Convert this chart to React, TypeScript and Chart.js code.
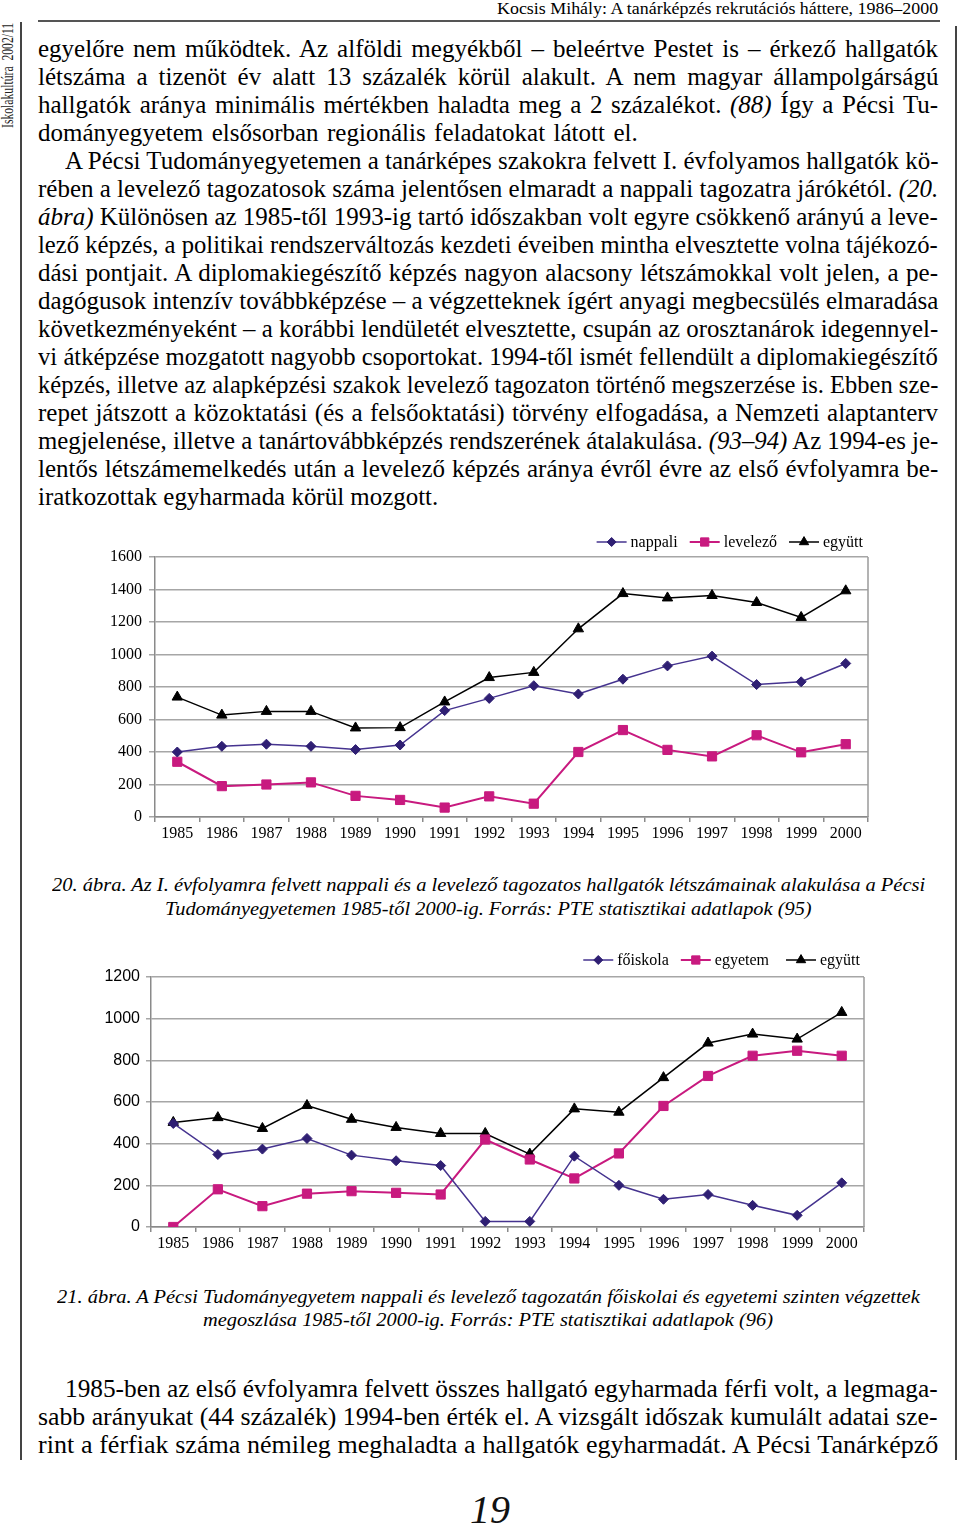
import React, { useEffect, useLayoutEffect, useRef } from "react";
import { Chart, registerables } from "chart.js";
import { drawPoint } from "chart.js/helpers";

Chart.register(...registerables);

const SERIF = '"Liberation Serif", serif';
const SANS = '"Liberation Sans", sans-serif';

// ---------- data ----------
const years = ["1985", "1986", "1987", "1988", "1989", "1990", "1991", "1992", "1993", "1994", "1995", "1996", "1997", "1998", "1999", "2000"];

// Figure 20
const nappali = [400, 435, 448, 435, 415, 443, 655, 730, 808, 757, 848, 930, 990, 815, 832, 945];
const levelezo = [340, 190, 200, 213, 130, 105, 58, 127, 82, 400, 535, 413, 373, 503, 398, 448];
const egyutt20 = [738, 627, 650, 650, 548, 550, 708, 858, 890, 1158, 1375, 1348, 1363, 1320, 1228, 1392];
const labels20 = ["nappali", "levelező", "együtt"];

// Figure 21
const foiskola = [497, 348, 374, 425, 345, 318, 295, 27, 27, 340, 200, 133, 156, 104, 56, 212];
const egyetem = [0, 181, 100, 160, 172, 164, 156, 420, 324, 233, 353, 581, 725, 822, 846, 822];
const egyutt21 = [502, 525, 473, 583, 517, 478, 449, 449, 350, 567, 551, 717, 883, 926, 902, 1030];
const labels21 = ["főiskola", "egyetem", "együtt"];

const yMax20 = 1600;
const yMax21 = 1200;
const yStep = 200;

const PURPLE_LINE = "#45338f";
const PURPLE_PT = "#2f1f73";
const MAGENTA = "#c81a7f";
const BLACK = "#000000";

// ---------- plugins ----------
const framePlugin = {
  id: "frameRight",
  beforeDatasetsDraw(chart: any) {
    const { ctx, chartArea } = chart;
    ctx.save();
    ctx.strokeStyle = "#9a9a9a";
    ctx.lineWidth = 1.5;
    ctx.beginPath();
    ctx.moveTo(chartArea.right, chartArea.top);
    ctx.lineTo(chartArea.right, chartArea.bottom);
    ctx.stroke();
    ctx.restore();
  },
};

const lineLegendPlugin = {
  id: "lineLegend",
  afterDraw(chart: any, _args: any, opts: any) {
    const { ctx, chartArea } = chart;
    ctx.save();
    ctx.font = opts.font;
    ctx.textBaseline = "middle";
    ctx.textAlign = "left";
    const y = chartArea.top - opts.offsetY;
    let x = chartArea.right - opts.rightInset;
    const ds = chart.data.datasets.slice().reverse();
    ds.forEach((d: any, i: number) => {
      const tw = ctx.measureText(d.label).width;
      const tx = x - tw;
      ctx.fillStyle = "#000";
      ctx.fillText(d.label, tx, y + 1);
      const le = tx - opts.textGap;
      const ls = le - opts.lineLen;
      ctx.strokeStyle = d.borderColor;
      ctx.lineWidth = d.borderWidth;
      ctx.beginPath();
      ctx.moveTo(ls, y);
      ctx.lineTo(le, y);
      ctx.stroke();
      ctx.fillStyle = d.pointBackgroundColor;
      ctx.strokeStyle = d.pointBorderColor;
      ctx.lineWidth = 1;
      drawPoint(ctx, { pointStyle: d.pointStyle, radius: d.pointRadius * 0.9, rotation: 0, borderWidth: 1 } as any, (ls + le) / 2, y);
      x = ls - (opts.itemGaps ? opts.itemGaps[i] : opts.itemGap);
    });
    ctx.restore();
  },
};

function makeDatasets(names: string[], a: number[], b: number[], c: number[]) {
  return [
    {
      label: names[0], data: a, borderColor: PURPLE_LINE, borderWidth: 1.5,
      pointStyle: "rectRot", pointRadius: 5, pointBackgroundColor: PURPLE_PT, pointBorderColor: PURPLE_PT,
      pointBorderWidth: 1, tension: 0, fill: false,
    },
    {
      label: names[1], data: b, borderColor: MAGENTA, borderWidth: 2,
      pointStyle: "rect", pointRadius: 6.5, pointBackgroundColor: MAGENTA, pointBorderColor: MAGENTA,
      pointBorderWidth: 1, tension: 0, fill: false,
    },
    {
      label: names[2], data: c, borderColor: BLACK, borderWidth: 1.5,
      pointStyle: "triangle", pointRadius: 6, pointBackgroundColor: BLACK, pointBorderColor: BLACK,
      pointBorderWidth: 1, tension: 0, fill: false,
    },
  ];
}

type ChartBoxProps = {
  left: number; top: number; width: number; height: number;
  datasets: any[]; yMax: number;
  yFont: any; xFont: any;
  padTop: number; padRight: number; yWidth: number; xHeight: number;
  yTick: number; yPad: number;
  legendOffset: number; legendInset: number; itemGaps: number[];
};

function ChartBox(p: ChartBoxProps) {
  const ref = useRef<HTMLCanvasElement>(null);
  useEffect(() => {
    if (!ref.current) return;
    const chart = new Chart(ref.current, {
      type: "line",
      data: { labels: years, datasets: p.datasets },
      plugins: [framePlugin, lineLegendPlugin],
      options: {
        responsive: false,
        animation: false,
        devicePixelRatio: 1,
        layout: { padding: { top: p.padTop, right: p.padRight, left: 0, bottom: 0 } },
        plugins: {
          legend: { display: false },
          tooltip: { enabled: false },
          lineLegend: {
            font: `16px ${SERIF}`, offsetY: p.legendOffset, rightInset: p.legendInset,
            textGap: 4, lineLen: 30, itemGaps: p.itemGaps,
          },
        } as any,
        scales: {
          x: {
            type: "category",
            offset: true,
            grid: { display: true, drawOnChartArea: false, drawTicks: true, tickLength: 5, color: "#8a8a8a", lineWidth: 1.5, offset: true },
            border: { display: true, color: "#8a8a8a", width: 1.5 },
            ticks: { font: p.xFont, color: "#000", padding: 2, maxRotation: 0, autoSkip: false },
            afterFit: (s: any) => { s.height = p.xHeight; },
          },
          y: {
            min: 0,
            max: p.yMax,
            ticks: { stepSize: yStep, font: p.yFont, color: "#000", padding: p.yPad, callback: (v: any) => String(v) },
            grid: { color: "#a6a6a6", lineWidth: 1.5, drawTicks: true, tickLength: p.yTick },
            border: { display: true, color: "#8a8a8a", width: 1.5 },
            afterFit: (s: any) => { s.width = p.yWidth; },
          },
        },
      } as any,
    });
    return () => chart.destroy();
  }, []);
  return (
    <canvas
      ref={ref}
      width={p.width}
      height={p.height}
      style={{ position: "absolute", left: p.left, top: p.top, width: p.width, height: p.height }}
    />
  );
}

// ---------- text helpers ----------
type FitProps = {
  x: number; y: number; w: number; size: number; lh?: number;
  mode?: "justify" | "scale"; italic?: boolean; family?: string; children: React.ReactNode;
};

function FitLine({ x, y, w, size, lh = 28, mode = "justify", italic, family = SERIF, children }: FitProps) {
  const ref = useRef<HTMLSpanElement>(null);
  useLayoutEffect(() => {
    const el = ref.current;
    if (!el) return;
    const fit = () => {
      el.style.transform = "none";
      el.style.wordSpacing = "0px";
      const nat = el.offsetWidth;
      if (!nat) return;
      const spaces = ((el.textContent || "").match(/ /g) || []).length;
      if (mode === "justify" && nat < w && spaces > 0) {
        el.style.wordSpacing = (w - nat) / spaces + "px";
      } else {
        el.style.transform = `scaleX(${w / nat})`;
      }
    };
    fit();
    if ((document as any).fonts && (document as any).fonts.ready) {
      (document as any).fonts.ready.then(fit);
    }
  }, [w, mode]);
  return (
    <div
      style={{
        position: "absolute", left: x, top: y - lh / 2, height: lh, lineHeight: lh + "px",
        whiteSpace: "nowrap", fontFamily: family, fontSize: size, fontStyle: italic ? "italic" : "normal", color: "#000",
      }}
    >
      <span ref={ref} style={{ display: "inline-block", transformOrigin: "left center" }}>{children}</span>
    </div>
  );
}

const bodyLines: { t: React.ReactNode; x: number; w: number }[] = [
  { t: "egyelőre nem működtek. Az alföldi megyékből – beleértve Pestet is – érkező hallgatók", x: 38, w: 900 },
  { t: "létszáma a tizenöt év alatt 13 százalék körül alakult. A nem magyar állampolgárságú", x: 38, w: 900 },
  { t: <>hallgatók aránya minimális mértékben haladta meg a 2 százalékot. <i>(88)</i> Így a Pécsi Tu-</>, x: 38, w: 900 },
  { t: "dományegyetem elsősorban regionális feladatokat látott el.", x: 38, w: 600 },
  { t: "A Pécsi Tudományegyetemen a tanárképes szakokra felvett I. évfolyamos hallgatók kö-", x: 65, w: 873 },
  { t: <>rében a levelező tagozatosok száma jelentősen elmaradt a nappali tagozatra járókétól. <i>(20.</i></>, x: 38, w: 900 },
  { t: <><i>ábra)</i> Különösen az 1985-től 1993-ig tartó időszakban volt egyre csökkenő arányú a leve-</>, x: 38, w: 900 },
  { t: "lező képzés, a politikai rendszerváltozás kezdeti éveiben mintha elvesztette volna tájékozó-", x: 38, w: 900 },
  { t: "dási pontjait. A diplomakiegészítő képzés nagyon alacsony létszámokkal volt jelen, a pe-", x: 38, w: 900 },
  { t: "dagógusok intenzív továbbképzése – a végzetteknek ígért anyagi megbecsülés elmaradása", x: 38, w: 900 },
  { t: "következményeként – a korábbi lendületét elvesztette, csupán az orosztanárok idegennyel-", x: 38, w: 900 },
  { t: "vi átképzése mozgatott nagyobb csoportokat. 1994-től ismét fellendült a diplomakiegészítő", x: 38, w: 900 },
  { t: "képzés, illetve az alapképzési szakok levelező tagozaton történő megszerzése is. Ebben sze-", x: 38, w: 900 },
  { t: "repet játszott a közoktatási (és a felsőoktatási) törvény elfogadása, a Nemzeti alaptanterv", x: 38, w: 900 },
  { t: <>megjelenése, illetve a tanártovábbképzés rendszerének átalakulása. <i>(93–94)</i> Az 1994-es je-</>, x: 38, w: 900 },
  { t: "lentős létszámemelkedés után a levelező képzés aránya évről évre az első évfolyamra be-", x: 38, w: 900 },
  { t: "iratkozottak egyharmada körül mozgott.", x: 38, w: 400 },
];

const bottomLines: { t: string; x: number; w: number }[] = [
  { t: "1985-ben az első évfolyamra felvett összes hallgató egyharmada férfi volt, a legmaga-", x: 65, w: 873 },
  { t: "sabb arányukat (44 százalék) 1994-ben érték el. A vizsgált időszak kumulált adatai sze-", x: 38, w: 900 },
  { t: "rint a férfiak száma némileg meghaladta a hallgatók egyharmadát. A Pécsi Tanárképző", x: 38, w: 900 },
];

function VerticalLabel() {
  const ref = useRef<HTMLSpanElement>(null);
  useLayoutEffect(() => {
    const el = ref.current;
    if (!el) return;
    const fit = () => {
      el.style.transform = "none";
      const nat = el.offsetWidth;
      if (nat) el.style.transform = `scaleX(${105 / nat})`;
    };
    fit();
    (document as any).fonts?.ready?.then(fit);
  }, []);
  return (
    <div
      style={{
        position: "absolute", left: 0, top: 128, width: 105, height: 16, lineHeight: "16px",
        transformOrigin: "0 0", transform: "rotate(-90deg)", whiteSpace: "nowrap",
        fontFamily: SERIF, fontSize: 16, color: "#222",
      }}
    >
      <span ref={ref} style={{ display: "inline-block", transformOrigin: "left center" }}>
        Iskolakultúra&nbsp;&nbsp;2002/11
      </span>
    </div>
  );
}

export default function App() {
  const xFont = { family: SERIF, size: 16 };
  return (
    <div
      style={{
        position: "absolute", left: 0, top: 0, width: 960, height: 1530, background: "#fff",
        overflow: "hidden", fontFamily: SERIF,
      }}
    >
      {/* header */}
      <FitLine x={497} y={9} w={441} size={16} lh={18} mode="scale">
        Kocsis Mihály: A tanárképzés rekrutációs háttere, 1986–2000
      </FitLine>
      <div style={{ position: "absolute", left: 38, top: 20, width: 902, height: 1.5, background: "#555" }} />
      {/* side rules */}
      <div style={{ position: "absolute", left: 20, top: 22, width: 1.5, height: 1438, background: "#444" }} />
      <div style={{ position: "absolute", left: 955, top: 26, width: 1.5, height: 1434, background: "#444" }} />
      <VerticalLabel />

      {bodyLines.map((l, i) => (
        <FitLine key={i} x={l.x} y={49 + 28 * i} w={l.w} size={25}>
          {l.t}
        </FitLine>
      ))}

      <ChartBox
        left={90} top={528} width={790} height={325}
        datasets={makeDatasets(labels20, nappali, levelezo, egyutt20)}
        yMax={yMax20}
        yFont={{ family: SERIF, size: 16 }} xFont={xFont}
        padTop={29} padRight={12} yWidth={65} xHeight={36}
        yTick={6} yPad={7}
        legendOffset={15} legendInset={5} itemGaps={[12, 12, 12]}
      />

      <FitLine x={52} y={885} w={873} size={19} lh={24} mode="scale" italic>
        20. ábra. Az I. évfolyamra felvett nappali és a levelező tagozatos hallgatók létszámainak alakulása a Pécsi
      </FitLine>
      <FitLine x={165} y={909} w={647} size={19} lh={24} mode="scale" italic>
        Tudományegyetemen 1985-től 2000-ig. Forrás: PTE statisztikai adatlapok (95)
      </FitLine>

      <ChartBox
        left={90} top={948} width={790} height={315}
        datasets={makeDatasets(labels21, foiskola, egyetem, egyutt21)}
        yMax={yMax21}
        yFont={{ family: SANS, size: 16 }} xFont={xFont}
        padTop={29} padRight={16} yWidth={61} xHeight={36}
        yTick={5} yPad={6}
        legendOffset={17} legendInset={4} itemGaps={[17, 12, 12]}
      />

      <FitLine x={57} y={1297} w={863} size={19} lh={24} mode="scale" italic>
        21. ábra. A Pécsi Tudományegyetem nappali és levelező tagozatán főiskolai és egyetemi szinten végzettek
      </FitLine>
      <FitLine x={203} y={1320} w={570} size={19} lh={24} mode="scale" italic>
        megoszlása 1985-től 2000-ig. Forrás: PTE statisztikai adatlapok (96)
      </FitLine>

      {bottomLines.map((l, i) => (
        <FitLine key={"b" + i} x={l.x} y={1389 + 28 * i} w={l.w} size={26}>
          {l.t}
        </FitLine>
      ))}

      <div
        style={{
          position: "absolute", left: 440, top: 1488, width: 100, height: 44, lineHeight: "44px",
          textAlign: "center", fontFamily: SERIF, fontStyle: "italic", fontSize: 40, color: "#111",
        }}
      >
        19
      </div>
    </div>
  );
}
